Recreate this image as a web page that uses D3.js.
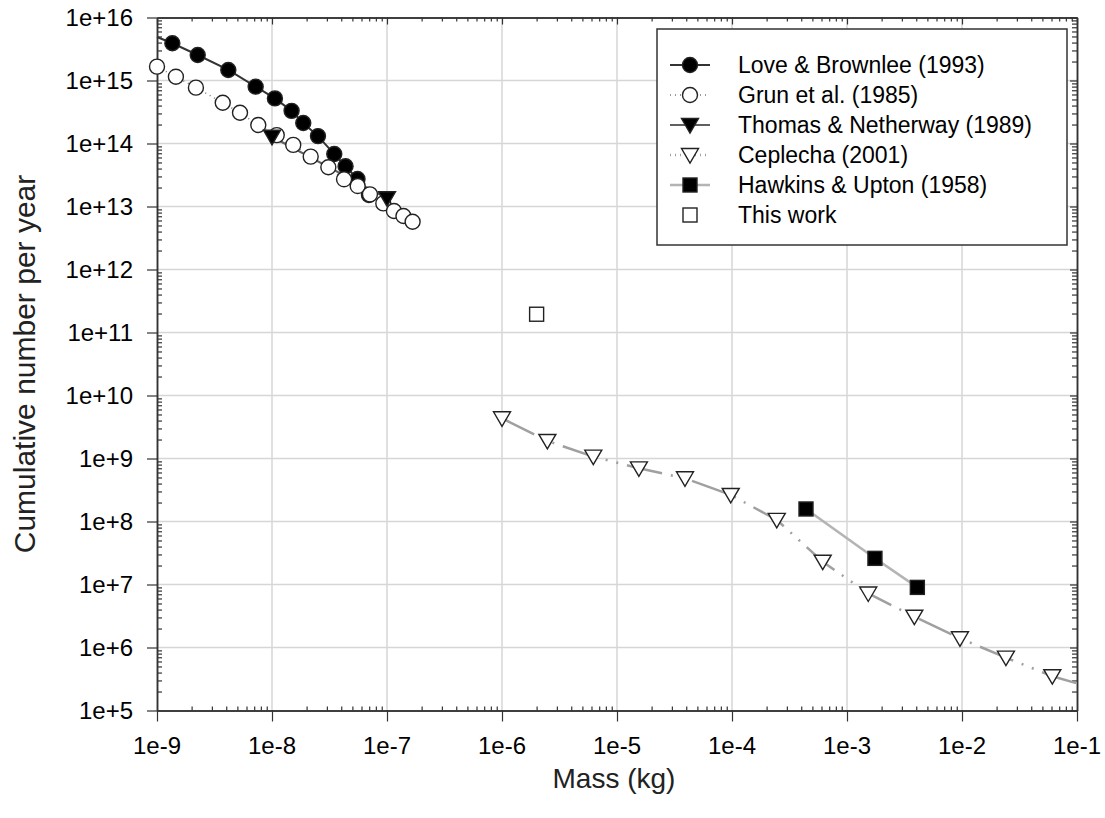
<!DOCTYPE html>
<html>
<head>
<meta charset="utf-8">
<script src="https://cdn.jsdelivr.net/npm/d3@7"></script>
<style>
  body { margin: 0; background: #fff; }
  text { font-family: "Liberation Sans", Arial, sans-serif; }
</style>
</head>
<body>
<div class="chart"></div>
<script>
// data (mass in kg, cumulative number per year)
var loveMass = [1.36e-9, 2.26e-9, 4.17e-9, 7.21e-9, 1.06e-8, 1.48e-8, 1.87e-8, 2.51e-8, 3.48e-8, 4.36e-8, 5.54e-8, 6.97e-8];
var loveN = [3.9e15, 2.54e15, 1.47e15, 7.98e14, 5.2e14, 3.3e14, 2.11e14, 1.31e14, 6.8e13, 4.35e13, 2.73e13, 1.52e13];
// the curve begins at the left edge before the first marker
var loveLineMass = [1e-9].concat(loveMass);
var loveLineN = [4.9e15].concat(loveN);

var grunMass = [1e-9, 1.46e-9, 2.18e-9, 3.73e-9, 5.27e-9, 7.6e-9, 1.1e-8, 1.53e-8, 2.17e-8, 3.09e-8, 4.23e-8, 5.56e-8, 7.11e-8, 9.29e-8, 1.15e-7, 1.39e-7, 1.67e-7];
var grunN = [1.66e15, 1.15e15, 7.7e14, 4.44e14, 3.08e14, 1.97e14, 1.36e14, 9.5e13, 6.2e13, 4.19e13, 2.7e13, 2.11e13, 1.56e13, 1.12e13, 8.5e12, 7.06e12, 5.74e12];

var thomasMass = [1e-8, 1e-7];
var thomasN = [1.28e14, 1.35e13];

var ceplechaMass = [1e-6, 2.48e-6, 6.22e-6, 1.55e-5, 3.9e-5, 9.75e-5, 2.45e-4, 6.15e-4, 1.53e-3, 3.85e-3, 9.6e-3, 2.41e-2, 6.1e-2];
var ceplechaN = [4.35e9, 1.9e9, 1.07e9, 6.98e8, 4.85e8, 2.64e8, 1.06e8, 2.3e7, 7.2e6, 3.08e6, 1.4e6, 6.9e5, 3.5e5];
// curve runs on to the right edge
var ceplechaLineMass = ceplechaMass.concat([1e-1]);
var ceplechaLineN = ceplechaN.concat([2.7e5]);

var hawkinsMass = [4.4e-4, 1.75e-3, 4.09e-3];
var hawkinsN = [1.58e8, 2.6e7, 9.0e6];

var thisWorkMass = [2.0e-6];
var thisWorkN = [1.95e11];

var legendNames = ['Love & Brownlee (1993)', 'Grun et al. (1985)', 'Thomas & Netherway (1989)', 'Ceplecha (2001)', 'Hawkins & Upton (1958)', 'This work'];

var xTicks = [1e-9, 1e-8, 1e-7, 1e-6, 1e-5, 1e-4, 1e-3, 1e-2, 1e-1];
var xTickLabels = ['1e-9', '1e-8', '1e-7', '1e-6', '1e-5', '1e-4', '1e-3', '1e-2', '1e-1'];
var yTicks = [1e5, 1e6, 1e7, 1e8, 1e9, 1e10, 1e11, 1e12, 1e13, 1e14, 1e15, 1e16];
var yTickLabels = ['1e+5', '1e+6', '1e+7', '1e+8', '1e+9', '1e+10', '1e+11', '1e+12', '1e+13', '1e+14', '1e+15', '1e+16'];

//setting graph bounds
var svgWidth = 1105;
var svgHeight = 818;
var margin = {top: 17.5, right: 28, bottom: 107.5, left: 157};
var width = svgWidth - margin.left - margin.right;
var height = svgHeight - margin.top - margin.bottom;

var svg = d3.select('.chart')
    .append('svg')
    .attr('width', svgWidth)
    .attr('height', svgHeight);
var chart = svg.append('g')
    .attr('transform', 'translate(' + margin.left + ',' + margin.top + ')');

// scales
var x = d3.scaleLog().domain([1e-9, 1e-1]).range([0, width]);
var y = d3.scaleLog().domain([1e5, 1e16]).range([height, 0]);

// minor tick positions 2..9 in each decade
function minors(lo, hi) {
    var out = [];
    for (var k = lo; k < hi; k++) {
        for (var m = 2; m <= 9; m++) out.push(m * Math.pow(10, k));
    }
    return out;
}
var xMinor = minors(-9, -1);
var yMinor = minors(5, 16);

// gridlines
chart.append('g').selectAll('line')
    .data(xTicks.slice(1, -1))
    .enter().append('line')
    .attr('x1', function(d) { return x(d); })
    .attr('x2', function(d) { return x(d); })
    .attr('y1', 0).attr('y2', height)
    .attr('stroke', '#d6d6d6').attr('stroke-width', 1.5);
chart.append('g').selectAll('line')
    .data(yTicks.slice(1, -1))
    .enter().append('line')
    .attr('y1', function(d) { return y(d); })
    .attr('y2', function(d) { return y(d); })
    .attr('x1', 0).attr('x2', width)
    .attr('stroke', '#d6d6d6').attr('stroke-width', 1.5);

// axes
function styleAxis(g) {
    g.selectAll('.domain').attr('stroke', '#333').attr('stroke-width', 1.5);
    g.selectAll('.tick line').attr('stroke', '#333').attr('stroke-width', 1.2);
    g.selectAll('text').remove();
}
var fmt = function(d, i) { return ''; };

chart.append('g').attr('transform', 'translate(0,' + height + ')')
    .call(d3.axisBottom(x).tickValues(xMinor).tickSizeInner(-4).tickSizeOuter(0).tickFormat(fmt)).call(styleAxis);
chart.append('g').attr('transform', 'translate(0,' + height + ')')
    .call(d3.axisBottom(x).tickValues(xTicks).tickSizeInner(11).tickSizeOuter(0).tickFormat(fmt)).call(styleAxis);
chart.append('g')
    .call(d3.axisTop(x).tickValues(xMinor).tickSizeInner(-4).tickSizeOuter(0).tickFormat(fmt)).call(styleAxis);
chart.append('g')
    .call(d3.axisTop(x).tickValues(xTicks).tickSizeInner(-7).tickSizeOuter(0).tickFormat(fmt)).call(styleAxis);
chart.append('g')
    .call(d3.axisLeft(y).tickValues(yMinor).tickSizeInner(-5).tickSizeOuter(0).tickFormat(fmt)).call(styleAxis);
chart.append('g')
    .call(d3.axisLeft(y).tickValues(yTicks).tickSizeInner(10).tickSizeOuter(0).tickFormat(fmt)).call(styleAxis);
chart.append('g').attr('transform', 'translate(' + width + ',0)')
    .call(d3.axisRight(y).tickValues(yMinor).tickSizeInner(-5).tickSizeOuter(0).tickFormat(fmt)).call(styleAxis);
chart.append('g').attr('transform', 'translate(' + width + ',0)')
    .call(d3.axisRight(y).tickValues(yTicks).tickSizeInner(-7).tickSizeOuter(0).tickFormat(fmt)).call(styleAxis);

// tick labels
chart.append('g').selectAll('text')
    .data(xTicks)
    .enter().append('text')
    .attr('x', function(d) { return x(d); })
    .attr('y', height + 35)
    .attr('dy', '0.35em')
    .attr('text-anchor', 'middle')
    .attr('font-size', '24px')
    .attr('fill', '#000')
    .text(function(d, i) { return xTickLabels[i]; });
chart.append('g').selectAll('text')
    .data(yTicks)
    .enter().append('text')
    .attr('x', -24)
    .attr('y', function(d) { return y(d); })
    .attr('dy', '0.35em')
    .attr('text-anchor', 'end')
    .attr('font-size', '24px')
    .attr('fill', '#000')
    .text(function(d, i) { return yTickLabels[i]; });

// axis titles
chart.append('text')
    .attr('x', width / 2 - 3)
    .attr('y', height + 68)
    .attr('dy', '0.35em')
    .attr('text-anchor', 'middle')
    .attr('font-size', '28px')
    .attr('fill', '#222')
    .text('Mass (kg)');
chart.append('text')
    .attr('transform', 'translate(' + (24 - margin.left) + ',' + (height / 2) + ') rotate(-90)')
    .attr('dy', '0.35em')
    .attr('text-anchor', 'middle')
    .attr('font-size', '30px')
    .attr('fill', '#222')
    .text('Cumulative number per year');

// series styles
var series = [
    {mass: loveMass, n: loveN, lineMass: loveLineMass, lineN: loveLineN, stroke: '#333', width: 2, dash: null, marker: 'circle', fill: '#000'},
    {mass: grunMass, n: grunN, lineMass: grunMass, lineN: grunN, stroke: '#777', width: 1.5, dash: '1,4', marker: 'circle', fill: '#fff'},
    {mass: thomasMass, n: thomasN, lineMass: thomasMass, lineN: thomasN, stroke: '#606060', width: 2, dash: null, marker: 'tri', fill: '#000'},
    {mass: ceplechaMass, n: ceplechaN, lineMass: ceplechaLineMass, lineN: ceplechaLineN, stroke: '#a0a0a0', width: 2.5, dash: '36,9,2,9,2,9', marker: 'tri', fill: '#fff'},
    {mass: hawkinsMass, n: hawkinsN, lineMass: hawkinsMass, lineN: hawkinsN, stroke: '#b4b4b4', width: 2.5, dash: null, marker: 'square', fill: '#000'},
    {mass: thisWorkMass, n: thisWorkN, lineMass: [], lineN: [], stroke: 'none', width: 0, dash: null, marker: 'square', fill: '#fff'}
];

var line = d3.line()
    .x(function(d) { return x(d[0]); })
    .y(function(d) { return y(d[1]); });

function drawMarker(g, type, fill) {
    if (type === 'circle') {
        g.append('circle').attr('r', 7.5);
    } else if (type === 'tri') {
        g.append('path').attr('d', 'M-8.5,-6.5L8.5,-6.5L0,8Z');
    } else {
        g.append('rect').attr('x', -7).attr('y', -7).attr('width', 14).attr('height', 14);
    }
    g.selectAll('*').attr('fill', fill).attr('stroke', '#222').attr('stroke-width', 1.4);
}

//lines
series.forEach(function(s) {
    if (!s.lineMass.length) return;
    chart.append('path')
        .datum(d3.zip(s.lineMass, s.lineN))
        .attr('d', line)
        .attr('fill', 'none')
        .attr('stroke', s.stroke)
        .attr('stroke-width', s.width)
        .attr('stroke-dasharray', s.dash);
});

//datapoints
series.forEach(function(s) {
    chart.append('g').selectAll('g')
        .data(d3.zip(s.mass, s.n))
        .enter().append('g')
        .attr('transform', function(d) { return 'translate(' + x(d[0]) + ',' + y(d[1]) + ')'; })
        .each(function() { drawMarker(d3.select(this), s.marker, s.fill); });
});

// legend
var legend = svg.append('g');
legend.append('rect')
    .attr('x', 657).attr('y', 29)
    .attr('width', 410).attr('height', 216)
    .attr('fill', '#fff')
    .attr('stroke', '#333')
    .attr('stroke-width', 1.5);
legendNames.forEach(function(name, i) {
    var s = series[i];
    var row = legend.append('g').attr('transform', 'translate(0,' + (65 + i * 30) + ')');
    if (s.stroke !== 'none') {
        row.append('line')
            .attr('x1', 670).attr('x2', 710)
            .attr('stroke', s.stroke)
            .attr('stroke-width', s.width)
            .attr('stroke-dasharray', s.dash ? '1,4' : null);
    }
    drawMarker(row.append('g').attr('transform', 'translate(690,0)'), s.marker, s.fill);
    row.append('text')
        .attr('x', 738)
        .attr('dy', '0.35em')
        .attr('font-size', '23px')
        .attr('fill', '#000')
        .text(name);
});
</script>
</body>
</html>
